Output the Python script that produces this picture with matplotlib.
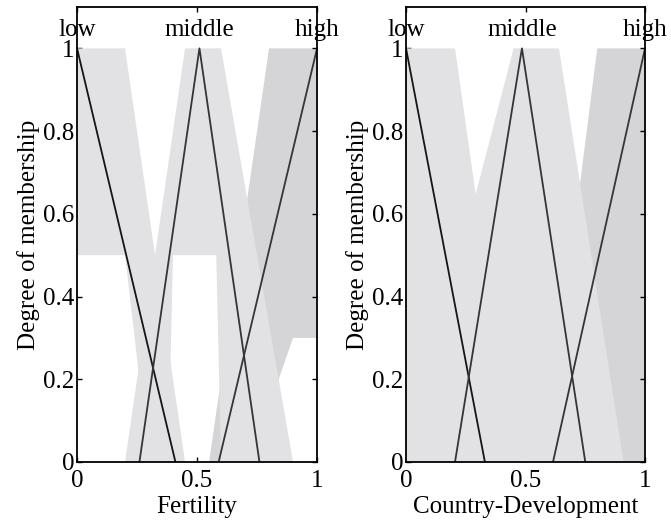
import numpy as np
import matplotlib
matplotlib.use("Agg")
import matplotlib.pyplot as plt

plt.rcParams["font.family"] = ["Liberation Serif", "DejaVu Serif"]

# Linguistic terms of both inputs
term_names = ["low", "middle", "high"]

# Fertility: interval type-2 sets (upper / lower trapezoids) and type-1 triangles
fert_upper = [[0.00, 0.00, 0.20, 0.45], [0.20, 0.45, 0.60, 0.90], [0.55, 0.80, 1.00, 1.00]]
fert_lower = [[0.00, 0.00, 0.20, 0.30], [0.38, 0.40, 0.58, 0.60], [0.72, 0.90, 1.00, 1.00]]
fert_lower_h = [0.5, 0.5, 0.3]
fert_tri = [[-0.41, 0.00, 0.41], [0.26, 0.51, 0.76], [0.59, 1.00, 1.41]]

# Country-Development
dev_upper = [[0.00, 0.00, 0.205, 0.45], [0.00, 0.45, 0.64, 0.91], [0.58, 0.80, 1.00, 1.00]]
dev_lower = [[0.00, 0.00, 0.10, 0.20], [0.30, 0.45, 0.60, 0.70], [0.80, 0.95, 1.00, 1.00]]
dev_lower_h = [0.0, 0.0, 0.0]
dev_tri = [[-0.33, 0.00, 0.33], [0.205, 0.485, 0.75], [0.615, 1.00, 1.385]]

x_ticks = [0, 0.5, 1]
x_tick_labels = ["0", "0.5", "1"]
y_ticks = [0, 0.2, 0.4, 0.6, 0.8, 1.0]
y_tick_labels = ["0", "0.2", "0.4", "0.6", "0.8", "1"]

fou_colors = ["#e2e2e4", "#e2e2e4", "#d5d5d7"]
line_colors = ["#151515", "#353535", "#353535"]
draw_order = [2, 0, 1]
FS = 18


def trap(x, p, h=1.0):
    a, b, c, d = p
    y = np.ones_like(x)
    if b > a:
        y = np.where(x < b, (x - a) / (b - a), y)
    else:
        y = np.where(x < a, 0.0, y)
    if d > c:
        y = np.where(x > c, (d - x) / (d - c), y)
    else:
        y = np.where(x > d, 0.0, y)
    return h * np.clip(y, 0.0, 1.0)


def draw_panel(ax, upper, lower, lower_h, tri, xlabel):
    x = np.linspace(0, 1, 4001)
    for i in draw_order:
        up = trap(x, upper[i])
        lo = trap(x, lower[i], lower_h[i])
        ax.fill_between(x, lo, up, where=up > lo, facecolor=fou_colors[i],
                        edgecolor="none", linewidth=0, zorder=1 + draw_order.index(i))
    for i, (a, b, c) in enumerate(tri):
        ax.plot([a, b, c], [0, 1, 0], color=line_colors[i], lw=1.3, zorder=6)
        ax.text(b, 1.03, term_names[i], ha="center", va="baseline",
                fontsize=FS, clip_on=False)
    ax.set_xlim(0, 1)
    ax.set_ylim(0, 1.1)
    ax.set_xticks(x_ticks)
    ax.set_xticklabels(x_tick_labels)
    ax.set_yticks(y_ticks)
    ax.set_yticklabels(y_tick_labels)
    ax.tick_params(direction="in", top=True, right=True, length=3.5, width=1,
                   labelsize=FS)
    ax.tick_params(axis="x", pad=6)
    ax.tick_params(axis="y", pad=2)
    for s in ax.spines.values():
        s.set_linewidth(1.3)
        s.set_zorder(10)
    ax.set_xlabel(xlabel, fontsize=FS, labelpad=3)
    ax.set_ylabel("Degree of membership", fontsize=FS, labelpad=2)


fig = plt.figure(figsize=(6.71, 5.26), dpi=100)
ax1 = fig.add_axes([0.1148, 0.1217, 0.3577, 0.865])
ax2 = fig.add_axes([0.6051, 0.1217, 0.3562, 0.865])
draw_panel(ax1, fert_upper, fert_lower, fert_lower_h, fert_tri, "Fertility")
draw_panel(ax2, dev_upper, dev_lower, dev_lower_h, dev_tri, "Country-Development")
fig.savefig("out.png", dpi=100)
